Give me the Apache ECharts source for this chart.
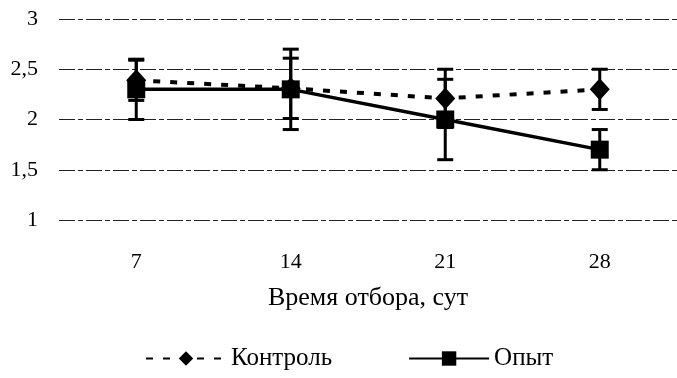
<!DOCTYPE html>
<html>
<head>
<meta charset="utf-8">
<script src="https://cdn.jsdelivr.net/npm/echarts@6/dist/echarts.min.js"></script>
<style>
  html, body { margin: 0; padding: 0; background: #fff; }
  #chart { width: 677px; height: 378px; }
</style>
</head>
<body>
<div id="chart"></div>
<script>
// Sampling days
const days = ['7', '14', '21', '28'];
// Control group: means and symmetric error
const controlMean = [2.39, 2.31, 2.21, 2.30];
const controlErr = [0.2, 0.3, 0.29, 0.2];
// Experimental group: means and symmetric error
const expMean = [2.3, 2.3, 2.0, 1.7];
const expErr = [0.3, 0.4, 0.4, 0.2];

const FONT = '"Liberation Serif", "Times New Roman", serif';

function errorData(mean, err) {
  return mean.map((m, i) => [i, m - err[i], m + err[i]]);
}

function errorSeries(name, mean, err, z) {
  return {
    type: 'custom',
    name: name,
    z: z,
    silent: true,
    data: errorData(mean, err),
    encode: { x: 0, y: [1, 2] },
    renderItem: function (params, api) {
      const x = api.value(0);
      const lo = api.coord([x, api.value(1)]);
      const hi = api.coord([x, api.value(2)]);
      const half = 8;
      const style = { stroke: '#000', lineWidth: 3 };
      return {
        type: 'group',
        children: [
          { type: 'line', shape: { x1: lo[0], y1: lo[1], x2: hi[0], y2: hi[1] }, style: style },
          { type: 'line', shape: { x1: lo[0] - half, y1: lo[1], x2: lo[0] + half, y2: lo[1] }, style: style },
          { type: 'line', shape: { x1: hi[0] - half, y1: hi[1], x2: hi[0] + half, y2: hi[1] }, style: style }
        ]
      };
    }
  };
}

const chart = echarts.init(document.getElementById('chart'));
chart.setOption({
  animation: false,
  backgroundColor: '#fff',
  textStyle: { fontFamily: FONT, color: '#000' },
  grid: { left: 59, right: -5, top: 19, bottom: 158 },
  xAxis: {
    type: 'category',
    data: days,
    boundaryGap: true,
    axisLine: { show: false },
    axisTick: { show: false },
    axisLabel: { color: '#000', fontFamily: FONT, fontSize: 22, margin: 31 },
    name: 'Время отбора, сут',
    nameLocation: 'middle',
    nameGap: 65,
    nameTextStyle: { color: '#000', fontFamily: FONT, fontSize: 26 }
  },
  yAxis: {
    type: 'value',
    min: 1,
    max: 3,
    interval: 0.5,
    axisLine: { show: false },
    axisTick: { show: false },
    axisLabel: {
      color: '#000', fontFamily: FONT, fontSize: 22, margin: 21,
      formatter: v => String(v).replace('.', ',')
    },
    splitLine: { lineStyle: { color: '#222', width: 1.2, type: [16, 3, 5, 3] } }
  },
  legend: {
    bottom: 2,
    left: 140,
    itemGap: 76,
    itemWidth: 80,
    itemHeight: 18,
    textStyle: { color: '#000', fontFamily: FONT, fontSize: 25 },
    data: ['Контроль', 'Опыт']
  },
  series: [
    errorSeries('errControl', controlMean, controlErr, 2),
    errorSeries('errExp', expMean, expErr, 3),
    {
      name: 'Контроль',
      type: 'line',
      z: 4,
      data: controlMean,
      symbol: 'diamond',
      symbolSize: [20, 22],
      itemStyle: { color: '#000' },
      lineStyle: { color: '#000', width: 4, type: [7, 10] }
    },
    {
      name: 'Опыт',
      type: 'line',
      z: 5,
      data: expMean,
      symbol: 'rect',
      symbolSize: 18,
      itemStyle: { color: '#000' },
      lineStyle: { color: '#000', width: 3.5 }
    }
  ]
});
</script>
</body>
</html>
